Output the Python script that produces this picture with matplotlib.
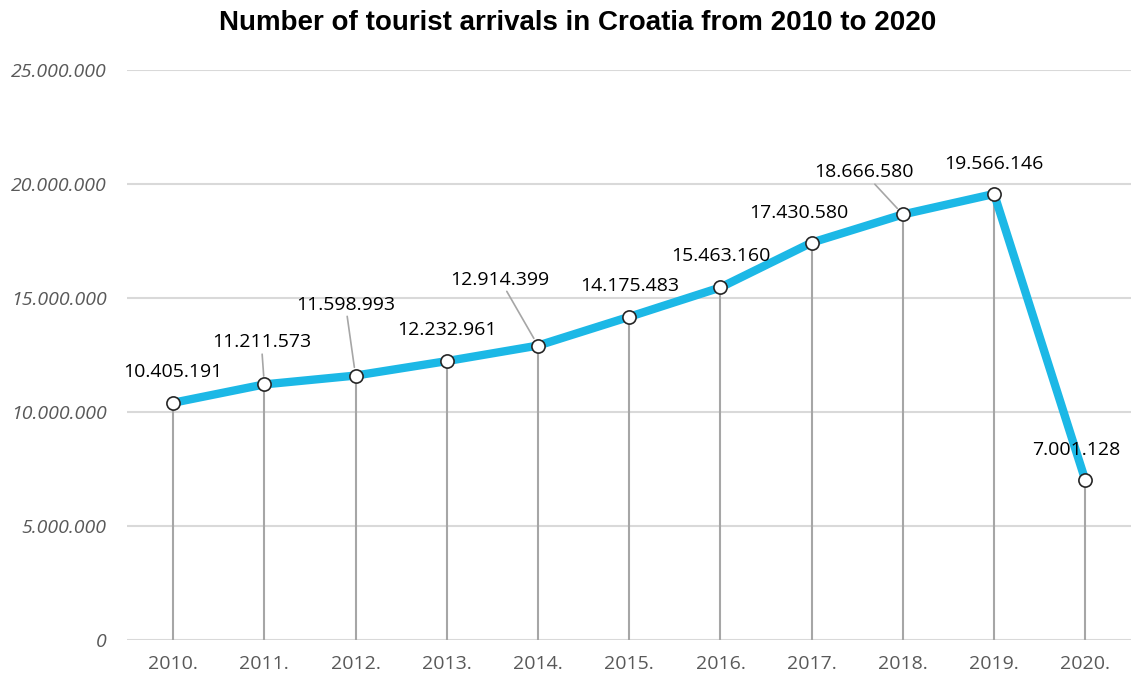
import matplotlib.pyplot as plt
from matplotlib.ticker import FuncFormatter

# Tourist arrivals per year
years = ['2010.', '2011.', '2012.', '2013.', '2014.', '2015.',
         '2016.', '2017.', '2018.', '2019.', '2020.']
arrivals = [10405191, 11211573, 11598993, 12232961, 12914399, 14175483,
            15463160, 17430580, 18666580, 19566146, 7001128]
y_ticks = [0, 5000000, 10000000, 15000000, 20000000, 25000000]

# label offsets in pixels from each point, and which get a leader line
label_offsets = [(0, 31), (-3, 42), (-10, 71), (0, 31), (-38, 66), (0, 31),
                 (0, 31), (-13, 30), (-39, 42), (0, 30), (-9, 30)]
leaders = [False, True, True, False, True, False, False, False, True, False, False]


def dotted(n):
    return f'{int(n):,}'.replace(',', '.')


plt.rcParams['font.family'] = ['Open Sans', 'DejaVu Sans']

fig = plt.figure(figsize=(11.37, 6.8), dpi=100)
ax = fig.add_axes([0.1121, 0.0588, 0.8826, 0.8382])

x = list(range(len(years)))

# vertical drop lines from each point down to zero
ax.vlines(x, 0, arrivals, color='#a6a6a6', lw=1.5, zorder=2)

ax.plot(x, arrivals, color='#1cb8e6', lw=6, solid_capstyle='round',
        solid_joinstyle='round', zorder=3)
ax.plot(x, arrivals, 'o', ms=9.5, mfc='white', mec='#262626', mew=1.2, zorder=4)

for xi, val, off, lead in zip(x, arrivals, label_offsets, leaders):
    arrow = dict(arrowstyle='-', color='#a6a6a6', lw=1.2, shrinkA=0, shrinkB=6) if lead else None
    ax.annotate(dotted(val), (xi, val), xytext=off, textcoords='offset pixels',
                ha='center', va='center', fontsize=14, color='black',
                arrowprops=arrow, zorder=5)

ax.set_xlim(-0.5, len(years) - 0.5)
ax.set_ylim(0, 25000000)
ax.set_xticks(x)
ax.set_xticklabels(years)
ax.set_yticks(y_ticks)
ax.yaxis.set_major_formatter(FuncFormatter(lambda v, p: dotted(v)))

for lab in ax.get_yticklabels():
    lab.set_fontstyle('italic')
ax.tick_params(axis='y', length=0, pad=15, labelsize=14, labelcolor='#595959')
ax.tick_params(axis='x', length=0, pad=11, labelsize=14, labelcolor='#595959')

ax.grid(axis='y', color='#d9d9d9', lw=1.5, zorder=0)
ax.set_axisbelow(True)
for s in ax.spines.values():
    s.set_visible(False)

fig.text(0.508, 0.966, 'Number of tourist arrivals in Croatia from 2010 to 2020',
         ha='center', va='center', fontsize=20, fontweight='bold',
         family='Liberation Sans')

fig.savefig('out.png', dpi=100)
